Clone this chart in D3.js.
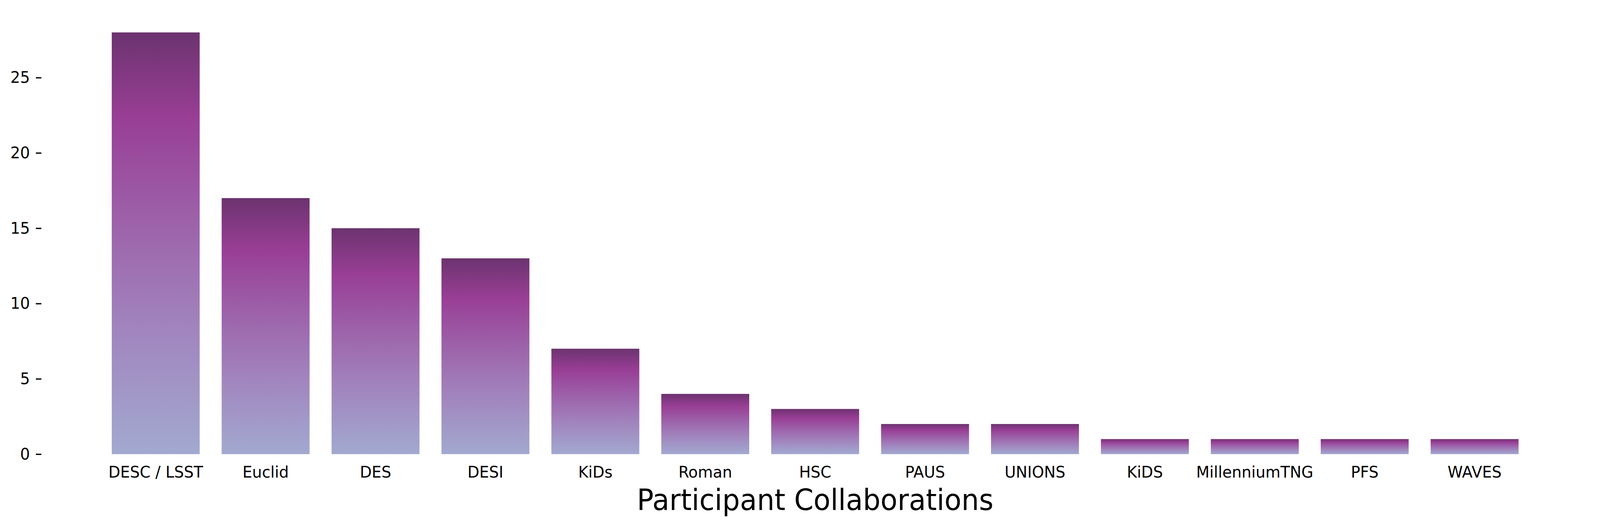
<!DOCTYPE html>
<html>
<head>
<meta charset="utf-8">
<script src="https://cdn.jsdelivr.net/npm/d3@7"></script>
<style>
  html, body { margin: 0; padding: 0; background: #fff; overflow: hidden; }
  svg { display: block; }
  text { font-family: "DejaVu Sans", sans-serif; }
</style>
</head>
<body>
<div id="chart"></div>
<script>
// Data
const collaborations = ["DESC / LSST", "Euclid", "DES", "DESI", "KiDs", "Roman", "HSC",
                        "PAUS", "UNIONS", "KiDS", "MillenniumTNG", "PFS", "WAVES"];
const participants = [28, 17, 15, 13, 7, 4, 3, 2, 2, 1, 1, 1, 1];
const yTicks = [0, 5, 10, 15, 20, 25];
const xTitle = "Participant Collaborations";

// Figure size and plot area (reference pixels)
const W = 4327, H = 1351;
const plot = {left: 112, right: 4297, top: 29, bottom: 1162};

// svg fills the window whatever its css size is
const svg = d3.select("#chart")
  .append("svg")
  .attr("viewBox", `0 0 ${W} ${H}`)
  .attr("preserveAspectRatio", "none")
  .style("width", "100vw")
  .style("height", "100vh");

// gradient for the bars, same on every bar (bounding box units)
const grad = svg.append("defs").append("linearGradient")
  .attr("id", "barGrad")
  .attr("x1", 0).attr("y1", 0)
  .attr("x2", 0).attr("y2", 1);
[[0, "#6c336f"], [0.2, "#983e95"], [0.45, "#9d62aa"], [0.7, "#a184bd"], [1, "#a2a9d0"]]
  .forEach(s => grad.append("stop").attr("offset", s[0]).attr("stop-color", s[1]));

// X scale
const x = d3.scaleBand()
  .domain(collaborations)
  .range([plot.left, plot.right])
  .paddingInner(0.2)
  .paddingOuter(0.64);

// Y scale
const y = d3.scaleLinear()
  .domain([0, d3.max(participants) * 1.05])
  .range([plot.bottom, plot.top]);

// Bars
svg.selectAll("rect.bar")
  .data(collaborations)
  .join("rect")
    .attr("class", "bar")
    .attr("x", d => x(d))
    .attr("width", x.bandwidth())
    .attr("y", (d, i) => y(participants[i]))
    .attr("height", (d, i) => y(0) - y(participants[i]))
    .attr("fill", "url(#barGrad)");

// Y axis
const yAxis = svg.append("g")
  .attr("transform", `translate(${plot.left},0)`)
  .call(d3.axisLeft(y).tickValues(yTicks).tickSize(15).tickPadding(16));
yAxis.select(".domain").remove();
yAxis.selectAll("line").attr("stroke", "#000").attr("stroke-width", 3.3);
yAxis.selectAll("text").style("font-size", "41.7px").attr("fill", "#000");

// X axis
const xAxis = svg.append("g")
  .attr("transform", `translate(0,${plot.bottom})`)
  .call(d3.axisBottom(x).tickSize(0).tickPadding(30.5));
xAxis.select(".domain").remove();
xAxis.selectAll("text").style("font-size", "41.7px").attr("fill", "#000");

// X axis label
svg.append("text")
  .attr("x", (plot.left + plot.right) / 2)
  .attr("y", 1305)
  .attr("text-anchor", "middle")
  .style("font-size", "75px")
  .text(xTitle);
</script>
</body>
</html>
